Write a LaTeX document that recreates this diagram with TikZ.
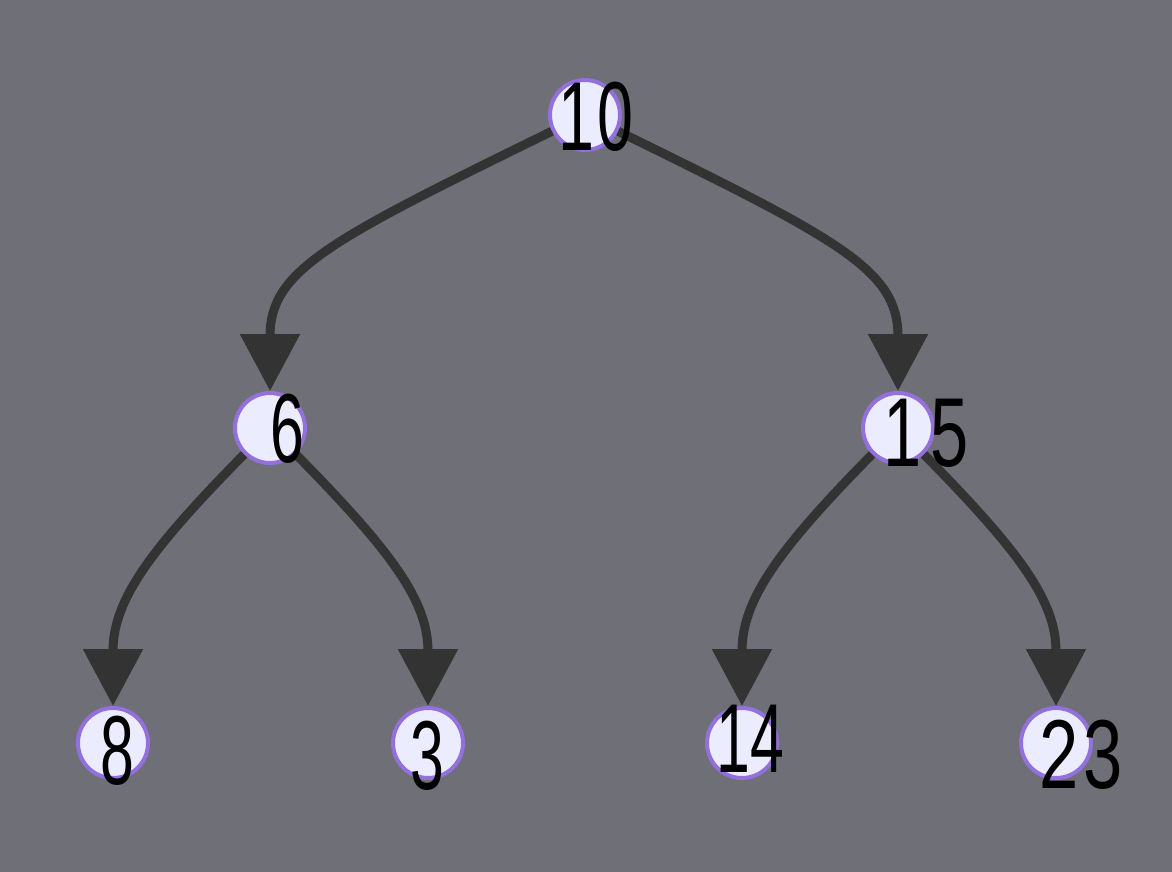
\documentclass[tikz,border=0pt]{standalone}
\usepackage{fontspec}
\setmainfont{Liberation Sans}
\usetikzlibrary{arrows.meta}
\definecolor{bgc}{RGB}{111,111,120}
\definecolor{nodefill}{HTML}{ECECFF}
\definecolor{nodeline}{HTML}{9370DB}
\definecolor{edgec}{HTML}{333333}
\tikzset{
  treenode/.style={circle,draw=nodeline,fill=nodefill,line width=4pt,minimum size=70pt,inner sep=0pt},
  edgeline/.style={draw=edgec,line width=9pt,-{Triangle[width=58pt,length=57pt]}},
  hand/.style={inner sep=0pt,text=black,font=\fontsize{98}{98}\selectfont}
}
\newcommand{\hw}[2][0.62]{\scalebox{#1}[1]{#2}}
\begin{document}
\begin{tikzpicture}[x=1pt,y=-1pt]
\fill[bgc] (0,0) rectangle (1172,872);
\useasboundingbox (0,0) rectangle (1172,872);
% circles
\node[treenode] (n10) at (585,115) {};
\node[treenode] (n6) at (270,428) {};
\node[treenode] (n15) at (898,428) {};
\node[treenode] (n8) at (113,743) {};
\node[treenode] (n3) at (428,743) {};
\node[treenode] (n14) at (742,743) {};
\node[treenode] (n23) at (1056,743) {};
% edges
\draw[edgeline] (n10) .. controls (330,240) and (270,270) .. (n6);
\draw[edgeline] (n10) .. controls (840,240) and (898,270) .. (n15);
\draw[edgeline] (n6) .. controls (150,550) and (113,600) .. (n8);
\draw[edgeline] (n6) .. controls (390,550) and (428,600) .. (n3);
\draw[edgeline] (n15) .. controls (778,550) and (742,600) .. (n14);
\draw[edgeline] (n15) .. controls (1018,550) and (1056,600) .. (n23);
% texts
\node[hand] (t10) at (596,117) {\hw[0.66]{1\kern4pt0}};
\node[hand] (t6) at (287,429) {\hw{6}};
\node[hand] (t15) at (926,433) {\hw[0.7]{1\kern12pt5}};
\node[hand] (t8) at (117,751) {\hw{8}};
\node[hand] (t3) at (427,756) {\hw{3}};
\node[hand] (t14) at (750,739) {\hw{14}};
\node[hand] (t23) at (1081,755) {\hw[0.72]{2\kern6pt3}};
\end{tikzpicture}
\end{document}
